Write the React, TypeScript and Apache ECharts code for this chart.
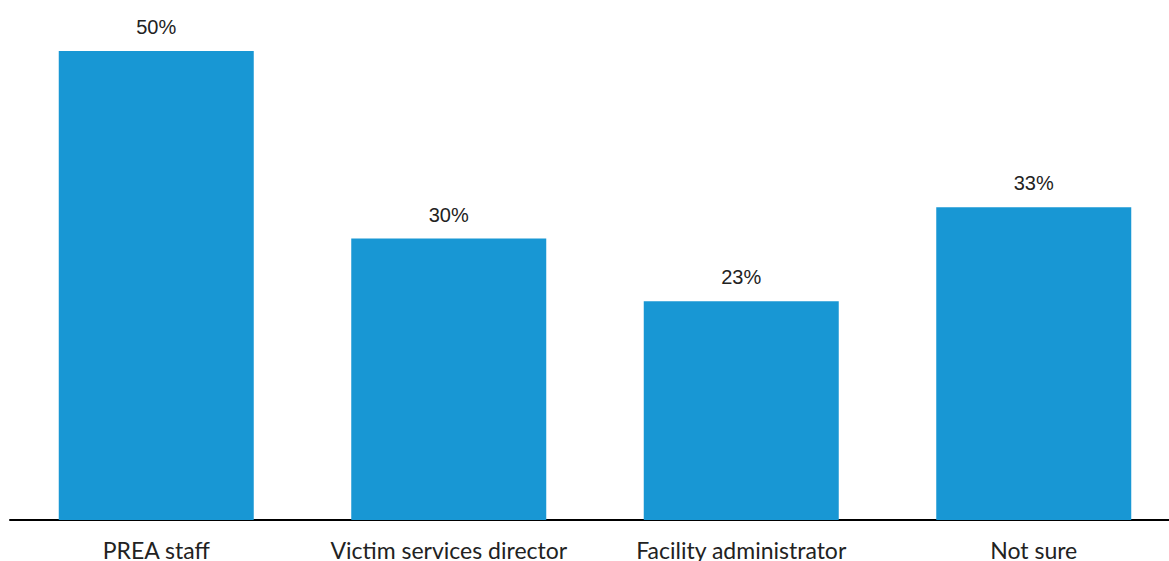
import React, { useEffect, useRef } from "react";
import * as echarts from "echarts";

const categories = ["PREA staff", "Victim services director", "Facility administrator", "Not sure"];
const values = [50, 30, 23.33, 33.33];

export default function App() {
  const ref = useRef<HTMLDivElement>(null);
  useEffect(() => {
    if (!ref.current) return;
    const chart = echarts.init(ref.current, undefined, { renderer: "svg" });
    chart.setOption({
      animation: false,
      grid: { left: 10, width: 1170, top: 51, bottom: 41, containLabel: false },
      xAxis: {
        type: "category",
        data: categories,
        axisLine: { show: true, lineStyle: { color: "#000", width: 2 } },
        axisTick: { show: false },
        axisLabel: {
          color: "#222",
          fontFamily: "Lato",
          fontSize: 23,
          margin: 18,
          interval: 0,
        },
      },
      yAxis: {
        type: "value",
        min: 0,
        max: 50,
        show: false,
        splitLine: { show: false },
      },
      series: [
        {
          type: "bar",
          data: values,
          barWidth: 195,
          itemStyle: { color: "#1897D4" },
          label: {
            show: true,
            position: "top",
            distance: 14,
            color: "#222",
            fontFamily: "Liberation Sans, Arial",
            fontSize: 20,
            formatter: (p: any) => Math.round(p.value) + "%",
          },
        },
      ],
    });
    return () => chart.dispose();
  }, []);
  return (
    <div style={{ position: "absolute", left: 0, top: 0, width: 1169, height: 561, overflow: "hidden" }}>
      <div ref={ref} style={{ width: 1190, height: 561 }} />
    </div>
  );
}
